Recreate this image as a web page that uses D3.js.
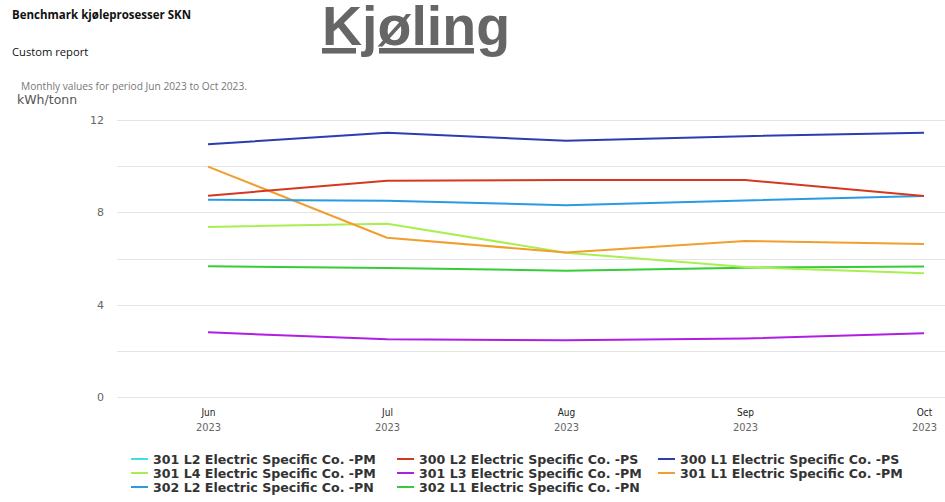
<!DOCTYPE html>
<html><head><meta charset="utf-8">
<script src="https://cdn.jsdelivr.net/npm/d3@7"></script>
<style>
body{margin:0;background:#fff;}
svg{display:block;}
</style></head>
<body>
<svg id="chart" width="945" height="502"></svg>
<script>
const months = ["Jun","Jul","Aug","Sep","Oct"];
const years = ["2023","2023","2023","2023","2023"];
const yTicks = [0,4,8,12];
const gridTicks = [0,2,4,6,8,10,12];
const seriesNames = [
  "301 L2 Electric Specific Co. -PM",
  "300 L2 Electric Specific Co. -PS",
  "300 L1 Electric Specific Co. -PS",
  "301 L4 Electric Specific Co. -PM",
  "301 L3 Electric Specific Co. -PM",
  "301 L1 Electric Specific Co. -PM",
  "302 L2 Electric Specific Co. -PN",
  "302 L1 Electric Specific Co. -PN"
];
const seriesColors = ["#3ee0e0","#d4391f","#2a3eb1","#a8ef4f","#b01ee3","#f29e2e","#2a9be2","#35cc35"];
const s301L2 = [];
const s300L2 = [8.72,9.37,9.40,9.40,8.71];
const s300L1 = [10.95,11.45,11.10,11.30,11.45];
const s301L4 = [7.37,7.51,6.25,5.63,5.36];
const s301L3 = [2.80,2.50,2.46,2.53,2.76];
const s301L1 = [9.98,6.90,6.26,6.76,6.63];
const s302L2 = [8.55,8.50,8.31,8.51,8.71];
const s302L1 = [5.66,5.59,5.47,5.60,5.65];
const seriesValues = [s301L2,s300L2,s300L1,s301L4,s301L3,s301L1,s302L2,s302L1];

const svg = d3.select("#chart");
const x = d3.scalePoint().domain(months).range([208,924]);
const y = d3.scaleLinear().domain([0,12]).range([397,120]);

// header texts
svg.append("text").attr("x",12).attr("y",19).text("Benchmark kjøleprosesser SKN")
  .attr("font-family","Open Sans, Liberation Sans, sans-serif").attr("font-weight","bold")
  .attr("font-size",11.5).attr("fill","#111");
svg.append("text").attr("x",12).attr("y",56).text("Custom report")
  .attr("font-family","Open Sans, Liberation Sans, sans-serif")
  .attr("font-size",11.2).attr("fill","#111");
svg.append("text").attr("x",21).attr("y",90).text("Monthly values for period Jun 2023 to Oct 2023.")
  .attr("font-family","Open Sans, Liberation Sans, sans-serif")
  .attr("font-size",10.2).attr("fill","#777");
svg.append("text").attr("x",17).attr("y",104).text("kWh/tonn")
  .attr("font-family","DejaVu Sans, sans-serif")
  .attr("font-size",12.5).attr("fill","#555");
svg.append("text").attr("x",322).attr("y",45).text("Kjøling")
  .attr("font-family","Liberation Sans, Arial, sans-serif").attr("font-weight","bold")
  .attr("font-size",55.5).attr("fill","#666").attr("text-decoration","underline");

// grid
const grid = svg.append("g");
grid.selectAll("line").data(gridTicks).join("line")
  .attr("x1",117).attr("x2",945)
  .attr("y1",d=>Math.round(y(d))+0.5).attr("y2",d=>Math.round(y(d))+0.5)
  .attr("stroke","#e4e4e4").attr("stroke-width",1);

// y axis labels
const yAxis = d3.axisLeft(y).tickValues(yTicks).tickSize(0).tickPadding(0).tickFormat(d3.format("d"));
const ya = svg.append("g").attr("transform","translate(104,0)").call(yAxis);
ya.select(".domain").remove();
ya.selectAll("text").attr("font-family","DejaVu Sans, sans-serif").attr("font-size",11).attr("fill","#666");

// x axis labels
const xAxis = d3.axisBottom(x).tickSize(0).tickPadding(0).tickFormat(d=>d);
const xa = svg.append("g").attr("transform","translate(0,409)").call(xAxis);
xa.select(".domain").remove();
xa.selectAll("text").attr("font-family","DejaVu Sans Condensed, DejaVu Sans, sans-serif").attr("font-size",10).attr("fill","#222");
const xa2 = svg.append("g").attr("transform","translate(0,423)")
  .call(d3.axisBottom(x).tickSize(0).tickPadding(0).tickFormat((d,i)=>years[i]));
xa2.select(".domain").remove();
xa2.selectAll("text").attr("font-family","DejaVu Sans Condensed, DejaVu Sans, sans-serif").attr("font-size",11).attr("fill","#666");

// lines
const line = d3.line().x((d,i)=>x(months[i])).y(d=>y(d));
const order = [4,7,3,5,6,1,2,0];
order.forEach(k=>{
  const vals = seriesValues[k];
  if(!vals.length) return;
  svg.append("path").attr("d",line(vals)).attr("fill","none")
    .attr("stroke",seriesColors[k]).attr("stroke-width",2).attr("stroke-linejoin","round");
});

// legend
const colX = [131,397,658];
const rowY = [459,473,487];
const leg = svg.append("g");
seriesNames.forEach((n,i)=>{
  const c = i%3, r = Math.floor(i/3);
  const g = leg.append("g").attr("transform",`translate(${colX[c]},${rowY[r]})`);
  g.append("line").attr("x1",0).attr("x2",17).attr("y1",0).attr("y2",0)
    .attr("stroke",seriesColors[i]).attr("stroke-width",2);
  g.append("text").attr("x",22).attr("y",4.5).text(n)
    .attr("font-family","DejaVu Sans, sans-serif").attr("font-weight","bold")
    .attr("font-size",12.6).attr("fill","#333");
});
</script>
</body></html>
